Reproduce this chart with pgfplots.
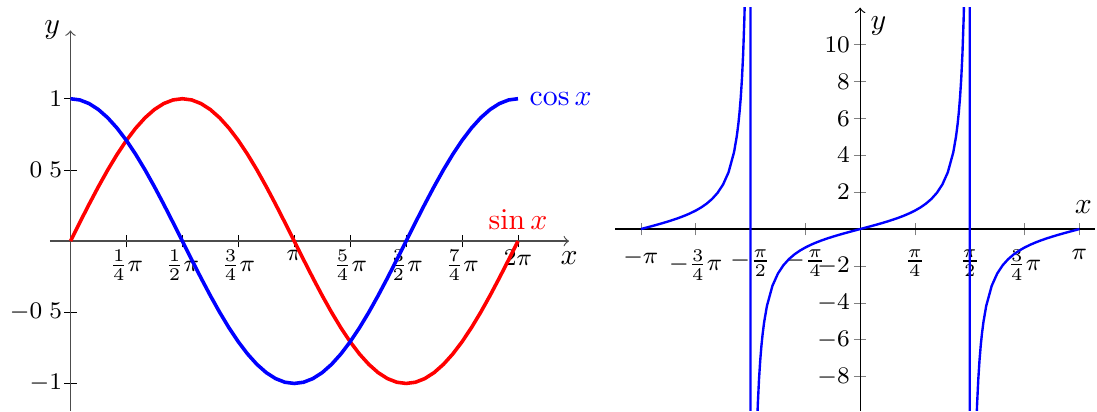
\documentclass[border=0pt]{standalone}
\usepackage{pgfplots}
\usepackage{pgfplotstable}
\pgfplotsset{compat=1.18}

% sin and cos sampled every pi/24
\pgfplotstableread{
x        s         c
0        0         1
0.13090  0.13053   0.99144
0.26180  0.25882   0.96593
0.39270  0.38268   0.92388
0.52360  0.5       0.86603
0.65450  0.60876   0.79335
0.78540  0.70711   0.70711
0.91630  0.79335   0.60876
1.04720  0.86603   0.5
1.17810  0.92388   0.38268
1.30900  0.96593   0.25882
1.43990  0.99144   0.13053
1.57080  1         0
1.70170  0.99144  -0.13053
1.83260  0.96593  -0.25882
1.96350  0.92388  -0.38268
2.09440  0.86603  -0.5
2.22529  0.79335  -0.60876
2.35619  0.70711  -0.70711
2.48709  0.60876  -0.79335
2.61799  0.5      -0.86603
2.74889  0.38268  -0.92388
2.87979  0.25882  -0.96593
3.01069  0.13053  -0.99144
3.14159  0        -1
3.27249 -0.13053  -0.99144
3.40339 -0.25882  -0.96593
3.53429 -0.38268  -0.92388
3.66519 -0.5      -0.86603
3.79609 -0.60876  -0.79335
3.92699 -0.70711  -0.70711
4.05789 -0.79335  -0.60876
4.18879 -0.86603  -0.5
4.31969 -0.92388  -0.38268
4.45059 -0.96593  -0.25882
4.58149 -0.99144  -0.13053
4.71239 -1         0
4.84329 -0.99144   0.13053
4.97419 -0.96593   0.25882
5.10509 -0.92388   0.38268
5.23599 -0.86603   0.5
5.36689 -0.79335   0.60876
5.49779 -0.70711   0.70711
5.62869 -0.60876   0.79335
5.75959 -0.5       0.86603
5.89049 -0.38268   0.92388
6.02139 -0.25882   0.96593
6.15229 -0.13053   0.99144
6.28319  0         1
}\trigdata

\pgfplotsset{
    ticklabels small/.style={
        tick label style={font=\fontsize{8.5}{10}\selectfont},
    },
}

\begin{document}
\begin{tikzpicture}
% left: sin and cos
\begin{axis}[
    at={(0,0)}, anchor=origin,
    x=23.93pt, y=47.83pt,
    axis lines=middle,
    axis line style={black!70, ->},
    xmin=-0.29, xmax=7.0,
    ymin=-1.19, ymax=1.48,
    xtick={0.7854,1.5708,2.3562,3.1416,3.9270,4.7124,5.4978,6.2832},
    xticklabels={$\frac{1}{4}\pi$,$\frac{1}{2}\pi$,$\frac{3}{4}\pi$,$\pi$,$\frac{5}{4}\pi$,$\frac{3}{2}\pi$,$\frac{7}{4}\pi$,$2\pi$},
    ytick={-1,-0.5,0.5,1},
    yticklabels={$-1$,$-0\phantom{.}5$,$0\phantom{.}5$,$1$},
    tick style={black},
    ticklabels small,
    xticklabel style={yshift=2.6pt},
    yticklabel style={xshift=2.8pt},
    xlabel={$x$}, ylabel={$y$},
    every axis x label/.style={at={(current axis.right of origin)}, anchor=north},
    every axis y label/.style={at={(current axis.above origin)}, anchor=east},
    clip=false,
]
\addplot[red, line width=1.2pt] table[x=x, y=s] {\trigdata} node[above] {$\sin x$};
\addplot[blue, line width=1.2pt] table[x=x, y=c] {\trigdata} node[right] {$\cos x$};
\end{axis}

% right: tan x on [-pi, pi]
\begin{axis}[
    at={(265.3pt,4pt)}, anchor=origin,
    x=23.45pt, y=6.2pt,
    axis lines=middle,
    axis line style={black},
    x axis line style={-},
    y axis line style={->},
    xmin=-3.51, xmax=3.37,
    ymin=-9.84, ymax=12,
    xtick={-3.14159,-2.35619,-1.5708,-0.7854,0.7854,1.5708,2.35619,3.14159},
    xticklabels={$-\pi$,$-\frac{3}{4}\pi$,$-\frac{\pi}{2}$,$-\frac{\pi}{4}$,$\frac{\pi}{4}$,$\frac{\pi}{2}$,$\frac{3}{4}\pi$,$\pi$},
    ytick={-8,-6,-4,-2,2,4,6,8,10},
    tick style={gray},
    ticklabels small,
    xticklabel style={yshift=-1.2pt},
    yticklabel style={xshift=2.2pt},
    xlabel={$x$}, ylabel={$y$},
    every axis x label/.style={at={(axis cs:3.37,0)}, anchor=south east, inner sep=1pt, yshift=4pt},
    every axis y label/.style={at={(current axis.above origin)}, anchor=north west},
]
\addplot[blue, thick] coordinates {
    (-3.14159,0) (-3.06305,0.07870) (-2.98451,0.15838) (-2.90597,0.24008) (-2.82743,0.32492)
    (-2.74889,0.41421) (-2.67035,0.50953) (-2.59181,0.61280) (-2.51327,0.72654) (-2.43473,0.85408)
    (-2.35619,1) (-2.27765,1.17085) (-2.19911,1.37638) (-2.12058,1.63185) (-2.04204,1.96261)
    (-1.96350,2.41421) (-1.88496,3.07768) (-1.80642,4.16530) (-1.76715,5.02734) (-1.74533,5.67128)
    (-1.72788,6.31375) (-1.71042,7.11537) (-1.69297,8.14435) (-1.67552,9.51436) (-1.65806,11.43005)
    (-1.64061,14.30067)
    (-1.57080,500) (-1.57080,-500)
    (-1.50098,-14.30067) (-1.48353,-11.43005) (-1.46608,-9.51436) (-1.44862,-8.14435) (-1.43117,-7.11537)
    (-1.41372,-6.31375) (-1.39626,-5.67128) (-1.37445,-5.02734)
    (-1.33518,-4.16530) (-1.25664,-3.07768) (-1.17810,-2.41421) (-1.09956,-1.96261) (-1.02102,-1.63185)
    (-0.94248,-1.37638) (-0.86394,-1.17085) (-0.78540,-1) (-0.70686,-0.85408) (-0.62832,-0.72654)
    (-0.54978,-0.61280) (-0.47124,-0.50953) (-0.39270,-0.41421) (-0.31416,-0.32492) (-0.23562,-0.24008)
    (-0.15708,-0.15838) (-0.07854,-0.07870) (0,0)
    (0.07854,0.07870) (0.15708,0.15838) (0.23562,0.24008) (0.31416,0.32492) (0.39270,0.41421)
    (0.47124,0.50953) (0.54978,0.61280) (0.62832,0.72654) (0.70686,0.85408) (0.78540,1)
    (0.86394,1.17085) (0.94248,1.37638) (1.02102,1.63185) (1.09956,1.96261) (1.17810,2.41421)
    (1.25664,3.07768) (1.33518,4.16530) (1.37445,5.02734) (1.39626,5.67128) (1.41372,6.31375)
    (1.43117,7.11537) (1.44862,8.14435) (1.46608,9.51436) (1.48353,11.43005) (1.50098,14.30067)
    (1.57080,500) (1.57080,-500)
    (1.64061,-14.30067) (1.65806,-11.43005) (1.67552,-9.51436) (1.69297,-8.14435) (1.71042,-7.11537)
    (1.72788,-6.31375) (1.74533,-5.67128) (1.76715,-5.02734)
    (1.80642,-4.16530) (1.88496,-3.07768) (1.96350,-2.41421) (2.04204,-1.96261) (2.12058,-1.63185)
    (2.19911,-1.37638) (2.27765,-1.17085) (2.35619,-1) (2.43473,-0.85408) (2.51327,-0.72654)
    (2.59181,-0.61280) (2.67035,-0.50953) (2.74889,-0.41421) (2.82743,-0.32492) (2.90597,-0.24008)
    (2.98451,-0.15838) (3.06305,-0.07870) (3.14159,0)
};
\end{axis}
% blank room above, as in the reference
\path (0,81pt);
\end{tikzpicture}
\end{document}
